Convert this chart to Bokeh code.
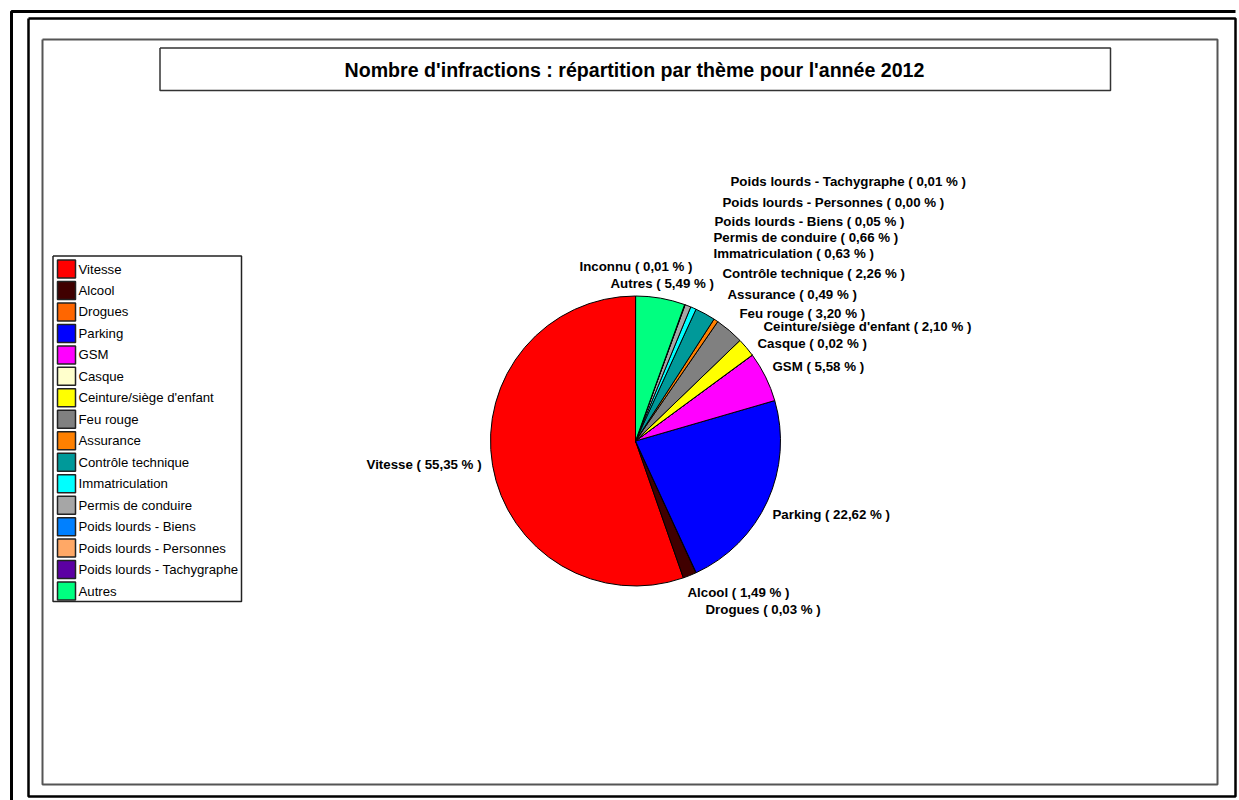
import math
from bokeh.plotting import figure
from bokeh.models import Range1d, ColumnDataSource
from bokeh.core.properties import value
from bokeh.embed import file_html
from bokeh.resources import INLINE

# ---------------- data ----------------
categories = ["Vitesse", "Alcool", "Drogues", "Parking", "GSM", "Casque",
              "Ceinture/siège d'enfant", "Feu rouge", "Assurance",
              "Contrôle technique", "Immatriculation", "Permis de conduire",
              "Poids lourds - Biens", "Poids lourds - Personnes",
              "Poids lourds - Tachygraphe", "Autres", "Inconnu"]
percentages = [55.35, 1.49, 0.03, 22.62, 5.58, 0.02, 2.10, 3.20, 0.49,
               2.26, 0.63, 0.66, 0.05, 0.00, 0.01, 5.49, 0.01]
colors = ["#FF0000", "#400000", "#FF6600", "#0000FF", "#FF00FF", "#FFFFCC",
          "#FFFF00", "#808080", "#FF8000", "#009999", "#00FFFF", "#A6A6A6",
          "#0080FF", "#FFA866", "#5C00A3", "#00FF80", "#FFFFFF"]
legend_categories = categories[:-1]
legend_colors = colors[:-1]
title_text = "Nombre d'infractions : répartition par thème pour l'année 2012"

# ---------------- layout (page pixel coordinates) ----------------
W, H = 1239, 800
def X(px):
    return px
def Y(py):
    return H - py

# label anchors (left edge x, centre y) in page pixels
label_pos = [(366, 464), (687, 592), (705, 609), (772, 514), (772, 366),
             (757, 343), (763, 326), (739, 313), (727, 294), (722, 273),
             (713, 253), (713, 237), (714, 221), (722, 202), (730, 181),
             (610, 283), (579, 266)]

p = figure(width=W, height=H, output_backend="svg", toolbar_location=None,
           x_range=Range1d(0, W), y_range=Range1d(0, H),
           x_axis_location=None, y_axis_location=None, min_border=0)
p.grid.visible = False
p.outline_line_color = None
p.background_fill_color = "white"
p.border_fill_color = "white"

# ---------------- frames ----------------
p.line(x=[X(11), X(11), X(1235)], y=[Y(830), Y(11), Y(11)], line_color="black", line_width=3)
p.line(x=[X(28), X(28), X(1235), X(1235), X(28)],
       y=[Y(18), Y(796), Y(796), Y(18), Y(18)], line_color="black", line_width=2.5)
p.line(x=[X(42), X(42), X(1217), X(1217), X(42)],
       y=[Y(39), Y(784), Y(784), Y(39), Y(39)], line_color="#555555", line_width=2)

# title box
p.line(x=[X(159.5), X(159.5), X(1110), X(1110), X(159.5)],
       y=[Y(47.5), Y(90), Y(90), Y(47.5), Y(47.5)], line_color="#333333", line_width=1.5)
p.text(x=[X(634)], y=[Y(69)], text=[title_text], text_font=value("Liberation Sans"),
       text_font_style="bold", text_font_size="19.6px", text_align="center",
       text_baseline="middle", text_color="black")

# ---------------- pie ----------------
total = sum(percentages)
starts, ends, wcolors = [], [], []
cum = 0.0
for v, c in zip(percentages, colors):
    a0 = math.pi / 2 + 2 * math.pi * cum / total
    cum += v
    a1 = math.pi / 2 + 2 * math.pi * cum / total
    if v > 0:
        starts.append(a0)
        ends.append(a1)
        wcolors.append(c)

src = ColumnDataSource(dict(start=starts, end=ends, color=wcolors))
cx, cy, r = X(635), Y(440.5), 145
p.wedge(x=cx, y=cy, radius=r, start_angle="start", end_angle="end",
        fill_color="color", line_color="black", line_width=1, source=src)

labels = ["%s ( %s %% )" % (c, ("%.2f" % v).replace(".", ",")) for c, v in zip(categories, percentages)]
lsrc = ColumnDataSource(dict(x=[X(a) for a, b in label_pos], y=[Y(b) for a, b in label_pos], t=labels))
p.text(x="x", y="y", text="t", source=lsrc, text_font=value("Liberation Sans"),
       text_font_style="bold", text_font_size="13.3px", text_align="left",
       text_baseline="middle", text_color="black")

# ---------------- legend ----------------
p.line(x=[X(52.5), X(52.5), X(241), X(241), X(52.5)],
       y=[Y(255.5), Y(601), Y(601), Y(255.5), Y(255.5)], line_color="#222222", line_width=1.5)
row = 21.47
ly = [Y(268.5 + row * i) for i in range(len(legend_categories))]
legsrc = ColumnDataSource(dict(x=[X(66)] * len(ly), tx=[X(78)] * len(ly), y=ly,
                               c=legend_colors, t=legend_categories))
p.rect(x="x", y="y", width=18, height=18, fill_color="c", line_color="#222222",
       line_width=1.5, source=legsrc)
p.text(x="tx", y="y", text="t", source=legsrc, text_font=value("Liberation Sans"),
       text_font_size="13.2px", text_align="left", text_baseline="middle", text_color="black")

open("out.html", "w").write(file_html(p, INLINE))
